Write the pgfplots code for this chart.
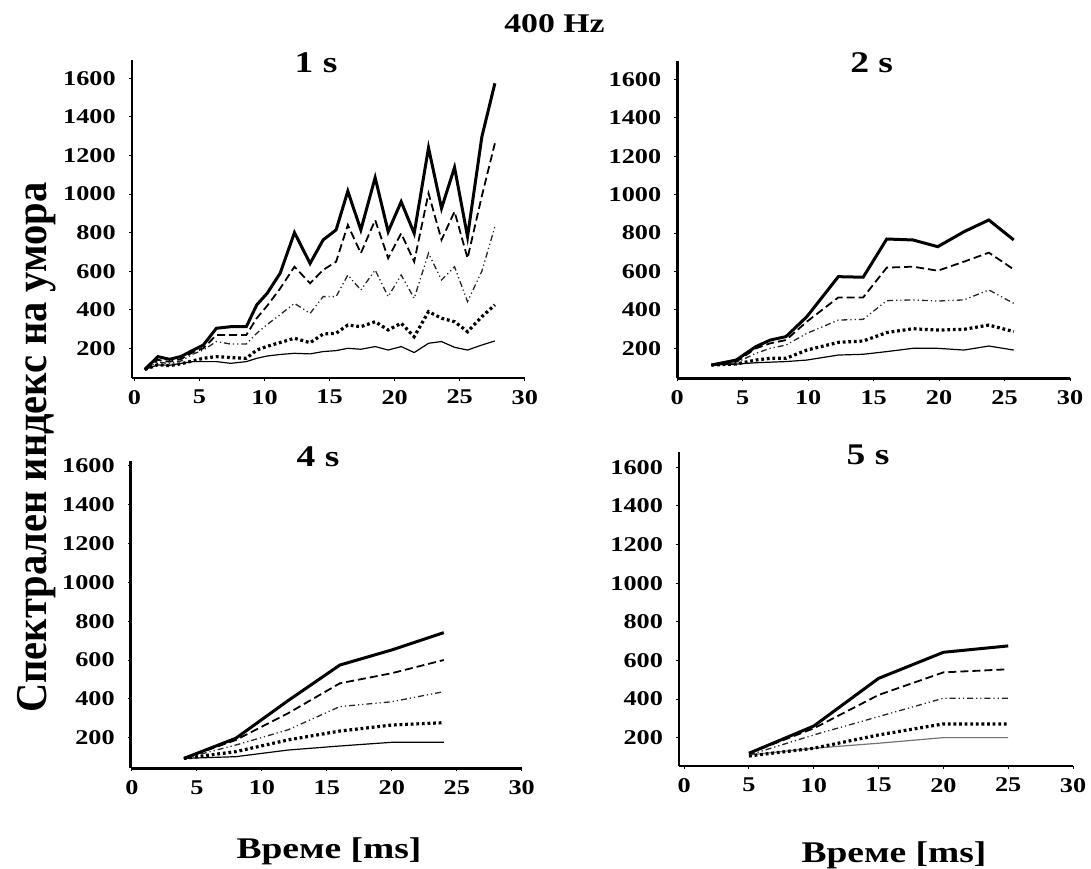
\documentclass[border=0pt]{standalone}
\usepackage{fontspec}
\setmainfont{Liberation Serif}[FakeStretch=1.25]
\newfontfamily\yfont{Liberation Serif}[FakeStretch=0.92]
\usepackage{pgfplots}
\pgfplotsset{compat=1.18}
\usepackage{pgfplotstable}

% 1 s
\pgfplotstableread{
x s1 s2 s3 s4 s5
0.8 90 90 90 90 90
1.8 157 140 130 115 114
2.7 143 130 120 110 112
3.6 158 145 135 120 122
4.5 190 180 170 135 131
5.3 217 200 191 148 131
6.3 304 269 235 157 131
7.4 312 269 222 152 122
8.6 312 269 222 148 131
9.4 425 356 278 191 148
10.2 485 420 323 210 160
11.2 589 510 375 230 168
12.3 800 623 433 252 174
13.5 640 537 381 229 171
14.5 762 606 468 274 183
15.5 814 649 468 278 188
16.4 1015 840 580 321 200
17.4 814 693 502 312 195
18.5 1085 865 606 338 209
19.5 805 667 468 295 191
20.5 960 796 580 330 209
21.5 796 649 459 260 178
22.6 1240 1004 693 390 226
23.6 926 762 554 356 235
24.6 1138 909 623 338 205
25.6 779 667 442 286 191
26.7 1297 990 600 364 217
27.7 1574 1263 830 425 238
}\tabA

% 2 s
\pgfplotstableread{
x s1 s2 s3 s4 s5
2.6 113 113 113 113 113
4.5 139 130 125 118 118
6.0 209 200 174 139 125
7.1 243 226 200 148 128
8.3 261 243 217 148 131
9.9 365 339 278 191 139
12.3 573 465 347 231 165
14.2 570 465 351 238 169
16.0 769 620 448 282 183
18.0 764 625 452 302 200
19.9 729 604 446 295 200
21.9 807 651 452 299 191
23.8 868 698 504 321 212
25.7 764 611 434 287 191
}\tabB

% 4 s
\pgfplotstableread{
x s1 s2 s3 s4 s5
4 93 93 93 93 93
8 197 188 162 128 102
12 390 325 240 188 136
16 574 480 360 234 157
20 652 532 385 265 176
24 741 600 437 277 176
}\tabC

% 5 s
\pgfplotstableread{
x s1 s2 s3 s4 s5
5 119 119 110 105 110
10 260 248 214 145 145
15 507 421 309 214 171
20 642 538 404 271 200
25 675 554 404 271 200
}\tabD

\pgfplotsset{
  panel/.style={
    scale only axis,
    axis lines=left,
    axis line style={-, line width=1.3pt, black},
    tick align=outside,
    major tick length=1.5pt,
    tick style={line width=0.5pt, black},
    xmax=30,
    xtick={0,5,10,15,20,25,30},
    ytick={200,400,600,800,1000,1200,1400,1600},
    /pgf/number format/assume math mode=true,
    /pgf/number format/set thousands separator={},
    ticklabel style={font=\bfseries\fontsize{10.5}{12}\selectfont},
    yticklabel style={xshift=-3pt},
    xticklabel style={yshift=-1pt},
    clip=false,
    no markers,
  },
  s1/.style={black, line width=1.5pt},
  s2/.style={black, line width=0.9pt, dash pattern=on 4pt off 2pt},
  s3/.style={black!85, line width=0.65pt, dash pattern=on 3pt off 1.5pt on 0.6pt off 1.5pt on 0.6pt off 1.5pt},
  s4/.style={black, line width=1.6pt, dash pattern=on 1.4pt off 1.4pt},
  s5/.style={black, line width=0.6pt},
}

\newcommand{\allseries}[1]{%
  \addplot[s5] table[x=x, y=s5] {#1};
  \addplot[s4] table[x=x, y=s4] {#1};
  \addplot[s3] table[x=x, y=s3] {#1};
  \addplot[s2] table[x=x, y=s2] {#1};
  \addplot[s1] table[x=x, y=s1] {#1};
}

\begin{document}
\begin{tikzpicture}[x=1pt, y=1pt]
\useasboundingbox (0pt,0pt) rectangle (545.5pt,434pt);

\begin{axis}[panel, at={(65.9pt,245.0pt)}, anchor=south west,
  width=196.5pt, height=159pt, xmin=-0.2, ymin=46, ymax=1695]
\allseries{\tabA}
\end{axis}

\begin{axis}[panel, at={(338.65pt,244.85pt)}, anchor=south west,
  width=196.35pt, height=158.8pt, xmin=0, ymin=44, ymax=1697]
\allseries{\tabB}
\end{axis}

\begin{axis}[panel, at={(65.35pt,49.85pt)}, anchor=south west,
  width=195.5pt, height=153.8pt, xmin=-0.1, ymin=42, ymax=1627]
\allseries{\tabC}
\end{axis}

\begin{axis}[panel, at={(339.5pt,51pt)}, anchor=south west,
  width=197pt, height=157.15pt, xmin=-0.4, ymin=53, ymax=1681]
\addplot[black!55, line width=0.6pt] table[x=x, y=s5] {\tabD};
\addplot[s4] table[x=x, y=s4] {\tabD};
\addplot[s3] table[x=x, y=s3] {\tabD};
\addplot[s2] table[x=x, y=s2] {\tabD};
\addplot[s1] table[x=x, y=s1] {\tabD};
\end{axis}

\node[anchor=base, font=\bfseries\fontsize{13.5}{16}\selectfont] at (277.25pt,417.5pt) {400 Hz};
\node[anchor=base, font=\bfseries\fontsize{15}{18}\selectfont] at (158pt,397.5pt) {1 s};
\node[anchor=base, font=\bfseries\fontsize{15}{18}\selectfont] at (435.85pt,397.5pt) {2 s};
\node[anchor=base, font=\bfseries\fontsize{15}{18}\selectfont] at (159pt,200.5pt) {4 s};
\node[anchor=base, font=\bfseries\fontsize{15}{18}\selectfont] at (434pt,201.5pt) {5 s};
\node[rotate=90, anchor=base, font=\yfont\bfseries\fontsize{22}{26}\selectfont] at (23pt,210.25pt) {Спектрален индекс на умора};
\node[anchor=base, font=\bfseries\fontsize{15}{18}\selectfont] at (164.5pt,5pt) {Време [ms]};
\node[anchor=base, font=\bfseries\fontsize{15}{18}\selectfont] at (447pt,3pt) {Време [ms]};
\end{tikzpicture}
\end{document}
